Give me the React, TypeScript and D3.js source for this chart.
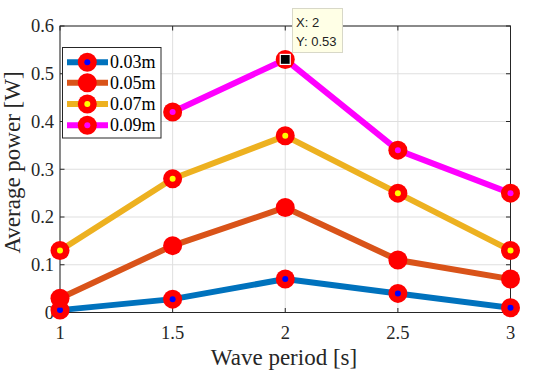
import React from "react";
import * as d3 from "d3";

const periods = [1, 1.5, 2, 2.5, 3];
const seriesNames = ["0.03m", "0.05m", "0.07m", "0.09m"];
const s003 = [0.005, 0.028, 0.07, 0.04, 0.01];
const s005 = [0.03, 0.14, 0.22, 0.11, 0.07];
const s007 = [0.13, 0.28, 0.37, 0.25, 0.13];
const s009 = [null, 0.42, 0.53, 0.34, 0.25];
const lineColors = ["#0072BD", "#D95319", "#EDB120", "#FF00FF"];
const faceColors = ["#0000FF", "#FF0000", "#FFFF00", "#FF00FF"];
const xTicks = [1, 1.5, 2, 2.5, 3];
const yTicks = [0, 0.1, 0.2, 0.3, 0.4, 0.5, 0.6];
const tipX = 2;
const tipY = 0.53;

const W = 538, H = 378;
const L = 60, R = 510.5, T = 26, B = 312.5;

export default function App() {
  const x = d3.scaleLinear().domain([1, 3]).range([L, R]);
  const y = d3.scaleLinear().domain([0, 0.6]).range([B, T]);
  const all = [s003, s005, s007, s009];
  const line = d3
    .line<[number, number | null]>()
    .defined((d) => d[1] !== null)
    .x((d) => x(d[0]))
    .y((d) => y(d[1] as number));
  const serif = "'Times New Roman', 'Liberation Serif', serif";
  const axisCol = "#262626";
  const legY = [62.3, 82.7, 104, 125.3];
  return (
    <svg width={W} height={H} style={{ position: "absolute", left: 0, top: 0, background: "#fff" }}>
      <rect x={0} y={0} width={W} height={H} fill="#fff" />
      {/* grid */}
      {xTicks.map((t) => (
        <line key={"gx" + t} x1={x(t)} x2={x(t)} y1={T} y2={B} stroke="#DFDFDF" strokeWidth={1} />
      ))}
      {yTicks.map((t) => (
        <line key={"gy" + t} x1={L} x2={R} y1={y(t)} y2={y(t)} stroke="#DFDFDF" strokeWidth={1} />
      ))}
      {/* box */}
      <rect x={L} y={T} width={R - L} height={B - T} fill="none" stroke={axisCol} strokeWidth={1} />
      {xTicks.map((t) => (
        <g key={"tx" + t}>
          <line x1={x(t)} x2={x(t)} y1={B} y2={B - 4.5} stroke={axisCol} />
          <line x1={x(t)} x2={x(t)} y1={T} y2={T + 4.5} stroke={axisCol} />
          <text x={x(t)} y={338.5} textAnchor="middle" fontFamily={serif} fontSize={18.5} fill={axisCol}>
            {String(t)}
          </text>
        </g>
      ))}
      {yTicks.map((t) => (
        <g key={"ty" + t}>
          <line x1={L} x2={L + 4.5} y1={y(t)} y2={y(t)} stroke={axisCol} />
          <line x1={R} x2={R - 4.5} y1={y(t)} y2={y(t)} stroke={axisCol} />
          <text x={54} y={y(t) + 6.3} textAnchor="end" fontFamily={serif} fontSize={18.5} fill={axisCol}>
            {String(t)}
          </text>
        </g>
      ))}
      <text x={284} y={365} textAnchor="middle" fontFamily={serif} fontSize={23} fill={axisCol}>
        Wave period [s]
      </text>
      <text
        transform={`translate(20,162.5) rotate(-90)`}
        textAnchor="middle"
        fontFamily={serif}
        fontSize={23}
        fill={axisCol}
      >
        Average power [W]
      </text>
      {/* series */}
      {all.map((s, i) => (
        <path
          key={"l" + i}
          d={line(periods.map((p, j) => [p, s[j]]) as [number, number | null][]) || ""}
          fill="none"
          stroke={lineColors[i]}
          strokeWidth={6}
          strokeLinejoin="round"
        />
      ))}
      {all.map((s, i) =>
        periods.map((p, j) =>
          s[j] === null ? null : (
            <g key={"m" + i + "-" + j}>
              <circle cx={x(p)} cy={y(s[j] as number)} r={9.5} fill="#FF0000" />
              <circle cx={x(p)} cy={y(s[j] as number)} r={3} fill={faceColors[i]} />
            </g>
          )
        )
      )}
      {/* datatip marker */}
      <rect x={x(tipX) - 5} y={y(tipY) - 5} width={10} height={10} fill="#000" stroke="#fff" strokeWidth={1.2} />
      <rect x={292.5} y={8.5} width={50} height={44} fill="#FFFFE6" stroke="#D8D8C8" strokeWidth={1} />
      <text x={296} y={26.5} fontFamily="Arial, 'Liberation Sans', sans-serif" fontSize={13} fill="#222">
        X: {tipX}
      </text>
      <text x={296} y={45.5} fontFamily="Arial, 'Liberation Sans', sans-serif" fontSize={13} fill="#222">
        Y: {tipY}
      </text>
      {/* legend */}
      <rect x={62.5} y={47.5} width={98.5} height={90.5} fill="#fff" stroke={axisCol} strokeWidth={1} />
      {seriesNames.map((n, i) => (
        <g key={"lg" + i}>
          <line x1={67} x2={108} y1={legY[i]} y2={legY[i]} stroke={lineColors[i]} strokeWidth={6} />
          <circle cx={87.3} cy={legY[i]} r={9.5} fill="#FF0000" />
          <circle cx={87.3} cy={legY[i]} r={3} fill={faceColors[i]} />
          <text x={110} y={legY[i] + 6} fontFamily={serif} fontSize={18} fill="#000">
            {n}
          </text>
        </g>
      ))}
    </svg>
  );
}
